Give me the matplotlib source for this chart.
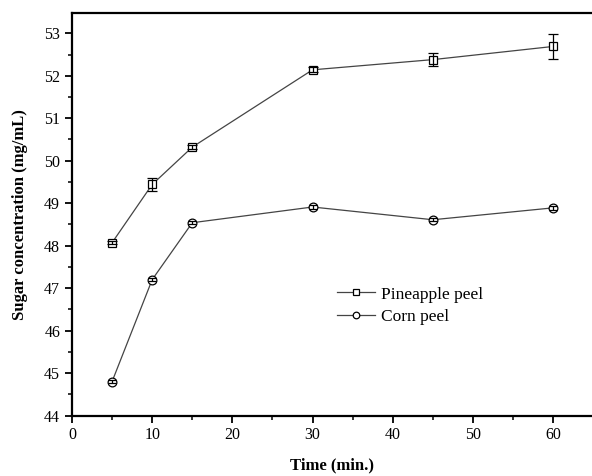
import matplotlib
matplotlib.use("Agg")
import matplotlib.pyplot as plt
from matplotlib.ticker import MultipleLocator

plt.rcParams['font.family'] = ['Liberation Serif', 'DejaVu Serif']

time_min = [5, 10, 15, 30, 45, 60]
pineapple = [48.07, 49.44, 50.32, 52.14, 52.38, 52.69]
pineapple_err = [0.04, 0.15, 0.04, 0.06, 0.15, 0.30]
corn = [44.80, 47.20, 48.54, 48.91, 48.61, 48.89]
corn_err = [0.04, 0.04, 0.04, 0.04, 0.04, 0.04]

fig = plt.figure(figsize=(5.92, 4.76), dpi=100)
ax = fig.add_axes([0.1216, 0.127, 0.8784, 0.845])

line_c = '#444444'
h1, = ax.plot(time_min, pineapple, color=line_c, lw=0.9, marker='s', ms=6.3,
              mfc='white', mec='black', mew=0.9, label='Pineapple peel', zorder=2)
h2, = ax.plot(time_min, corn, color=line_c, lw=0.9, marker='o', ms=6.3,
              mfc='white', mec='black', mew=0.9, label='Corn peel', zorder=2)
ax.errorbar(time_min, pineapple, yerr=pineapple_err, fmt='none', ecolor='black',
            elinewidth=0.9, capsize=3.5, capthick=0.9, zorder=3)
ax.errorbar(time_min, corn, yerr=corn_err, fmt='none', ecolor='black',
            elinewidth=0.9, capsize=3.2, capthick=0.9, zorder=3)

ax.set_xlim(0, 64.85)
ax.set_ylim(44, 53.47)
ax.xaxis.set_major_locator(MultipleLocator(10))
ax.xaxis.set_minor_locator(MultipleLocator(5))
ax.yaxis.set_major_locator(MultipleLocator(1))
ax.yaxis.set_minor_locator(MultipleLocator(0.5))
ax.tick_params(which='major', direction='out', length=5, width=1.3, labelsize=11.5)
ax.tick_params(which='minor', direction='out', length=3, width=1.1)
for s in ['left', 'bottom', 'top']:
    ax.spines[s].set_linewidth(1.6)
ax.spines['right'].set_visible(False)

ax.set_xlabel('Time (min.)', fontsize=12, fontweight='bold', labelpad=10)
ax.set_ylabel('Sugar concentration (mg/mL)', fontsize=12, fontweight='bold', labelpad=12)

ax.legend(handles=[h1, h2], loc='upper left', bbox_to_anchor=(0.48, 0.36), frameon=False,
          fontsize=12.5, handlelength=2.2, handletextpad=0.3, labelspacing=0.35,
          markerscale=0.75)

fig.savefig('out.png', dpi=100)
